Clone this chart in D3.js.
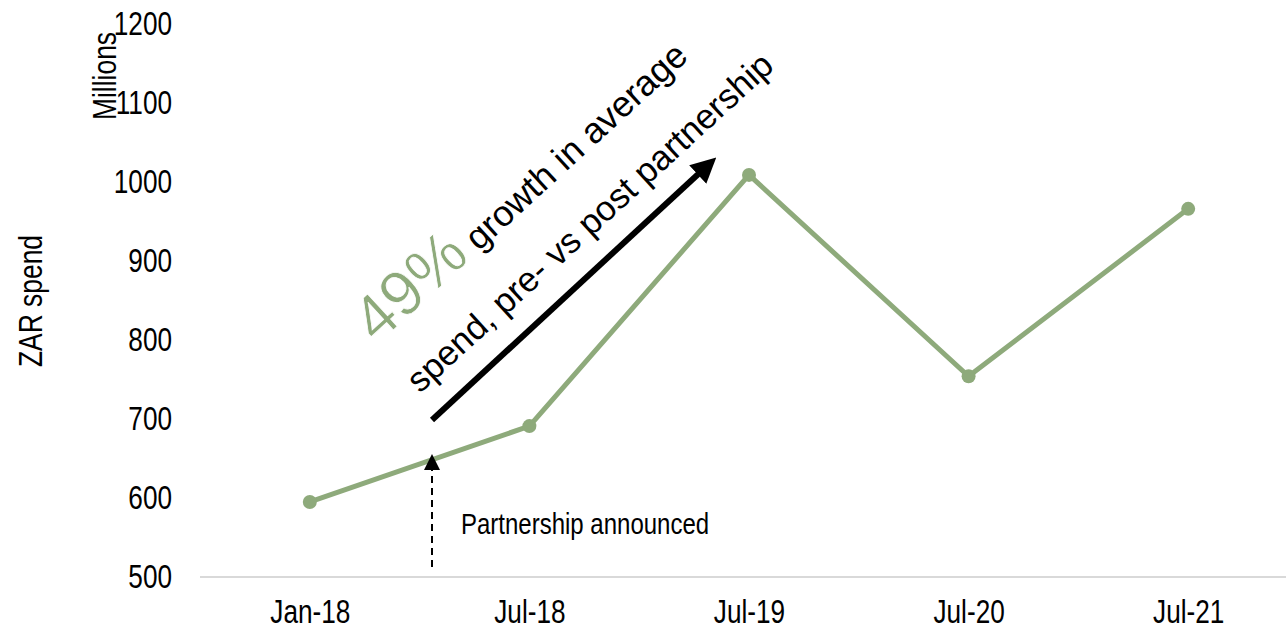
<!DOCTYPE html>
<html>
<head>
<meta charset="utf-8">
<script src="https://cdn.jsdelivr.net/npm/d3@7"></script>
<style>
  html, body { margin: 0; padding: 0; background: #fff; }
  svg text { font-family: "Liberation Sans", Arial, sans-serif; }
</style>
</head>
<body>
<div id="chart"></div>
<script>
// === DATA ===
const categories = ["Jan-18", "Jul-18", "Jul-19", "Jul-20", "Jul-21"];
const spend = [595, 691, 1009, 754, 966];   // ZAR millions
const yTicks = [500, 600, 700, 800, 900, 1000, 1100, 1200];

const W = 1286, H = 632;
const green = "#8eaa7b";
const narrow = 0.77; // Arial Narrow look: squeeze Liberation Sans along the text

const svg = d3.select("#chart")
    .append("svg")
    .attr("width", W)
    .attr("height", H);

// === SCALES ===
const x = d3.scalePoint()
    .domain(categories)
    .range([200, 1298])
    .padding(0.5);

const y = d3.scaleLinear()
    .domain([500, 1200])
    .range([577, 24]);

// === Y AXIS (labels only) ===
const yAxis = svg.append("g")
    .attr("transform", "translate(172,0)")
    .call(d3.axisLeft(y).tickValues(yTicks).tickFormat(d3.format("d")).tickSize(0).tickPadding(0));
yAxis.select(".domain").remove();
yAxis.selectAll("text")
    .attr("font-size", "34px")
    .attr("fill", "#000")
    .attr("transform", `scale(${narrow},1)`)
    .style("font-family", null);

// === X AXIS ===
svg.append("line")
    .attr("x1", 200).attr("x2", W)
    .attr("y1", y(500)).attr("y2", y(500))
    .attr("stroke", "#d9d9d9")
    .attr("stroke-width", 2);

const xAxis = svg.append("g")
    .attr("transform", `translate(0,${y(500)})`)
    .call(d3.axisBottom(x).tickSize(0).tickPadding(22));
xAxis.select(".domain").remove();
xAxis.selectAll("text")
    .attr("font-size", "34px")
    .attr("fill", "#000")
    .attr("transform", `scale(${narrow},1)`)
    .style("font-family", null);

// axis titles
svg.append("text")
    .attr("transform", `translate(42,301) rotate(-90) scale(0.8,1)`)
    .attr("text-anchor", "middle")
    .attr("font-size", "33px")
    .text("ZAR spend");

svg.append("text")
    .attr("transform", `translate(116,76) rotate(-90) scale(0.8,1)`)
    .attr("text-anchor", "middle")
    .attr("font-size", "33px")
    .text("Millions");

// === LINE ===
const line = d3.line()
    .x((d, i) => x(categories[i]))
    .y(d => y(d));

svg.append("path")
    .datum(spend)
    .attr("d", line)
    .attr("fill", "none")
    .attr("stroke", green)
    .attr("stroke-width", 5);

svg.selectAll(".dot")
    .data(spend)
    .join("circle")
    .attr("class", "dot")
    .attr("cx", (d, i) => x(categories[i]))
    .attr("cy", d => y(d))
    .attr("r", 7)
    .attr("fill", green);

// === ANNOTATIONS ===
const defs = svg.append("defs");
defs.append("marker")
    .attr("id", "head")
    .attr("viewBox", "0 0 10 10")
    .attr("refX", 5).attr("refY", 5)
    .attr("markerWidth", 4.2).attr("markerHeight", 4.2)
    .attr("orient", "auto")
    .append("path")
    .attr("d", "M0,0 L10,5 L0,10 Z")
    .attr("fill", "#000");

defs.append("marker")
    .attr("id", "headSmall")
    .attr("viewBox", "0 0 10 10")
    .attr("refX", 5).attr("refY", 5)
    .attr("markerWidth", 8).attr("markerHeight", 8)
    .attr("orient", "auto")
    .append("path")
    .attr("d", "M0,0 L10,5 L0,10 Z")
    .attr("fill", "#000");

// growth arrow
svg.append("line")
    .attr("x1", 432).attr("y1", 420)
    .attr("x2", 707).attr("y2", 166)
    .attr("stroke", "#000")
    .attr("stroke-width", 6)
    .attr("marker-end", "url(#head)");

// dashed "partnership" arrow
svg.append("line")
    .attr("x1", 432).attr("y1", 567)
    .attr("x2", 432).attr("y2", 462)
    .attr("stroke", "#000")
    .attr("stroke-width", 2)
    .attr("stroke-dasharray", "7,5")
    .attr("marker-end", "url(#headSmall)");

svg.append("text")
    .attr("transform", `translate(461,534) scale(0.8,1)`)
    .attr("font-size", "30px")
    .text("Partnership announced");

// rotated growth text
const angle = -42.5;
const t1 = svg.append("text")
    .attr("transform", `translate(377,345) rotate(${angle})`)
    .attr("font-size", "36px");
t1.append("tspan")
    .attr("fill", green)
    .attr("font-size", "64px")
    .attr("stroke", "#fff")
    .attr("stroke-width", 0.8)
    .text("49%");
t1.append("tspan").text(" growth in average");

svg.append("text")
    .attr("transform", `translate(420,394) rotate(${angle})`)
    .attr("font-size", "35px")
    .text("spend, pre- vs post partnership");
</script>
</body>
</html>
